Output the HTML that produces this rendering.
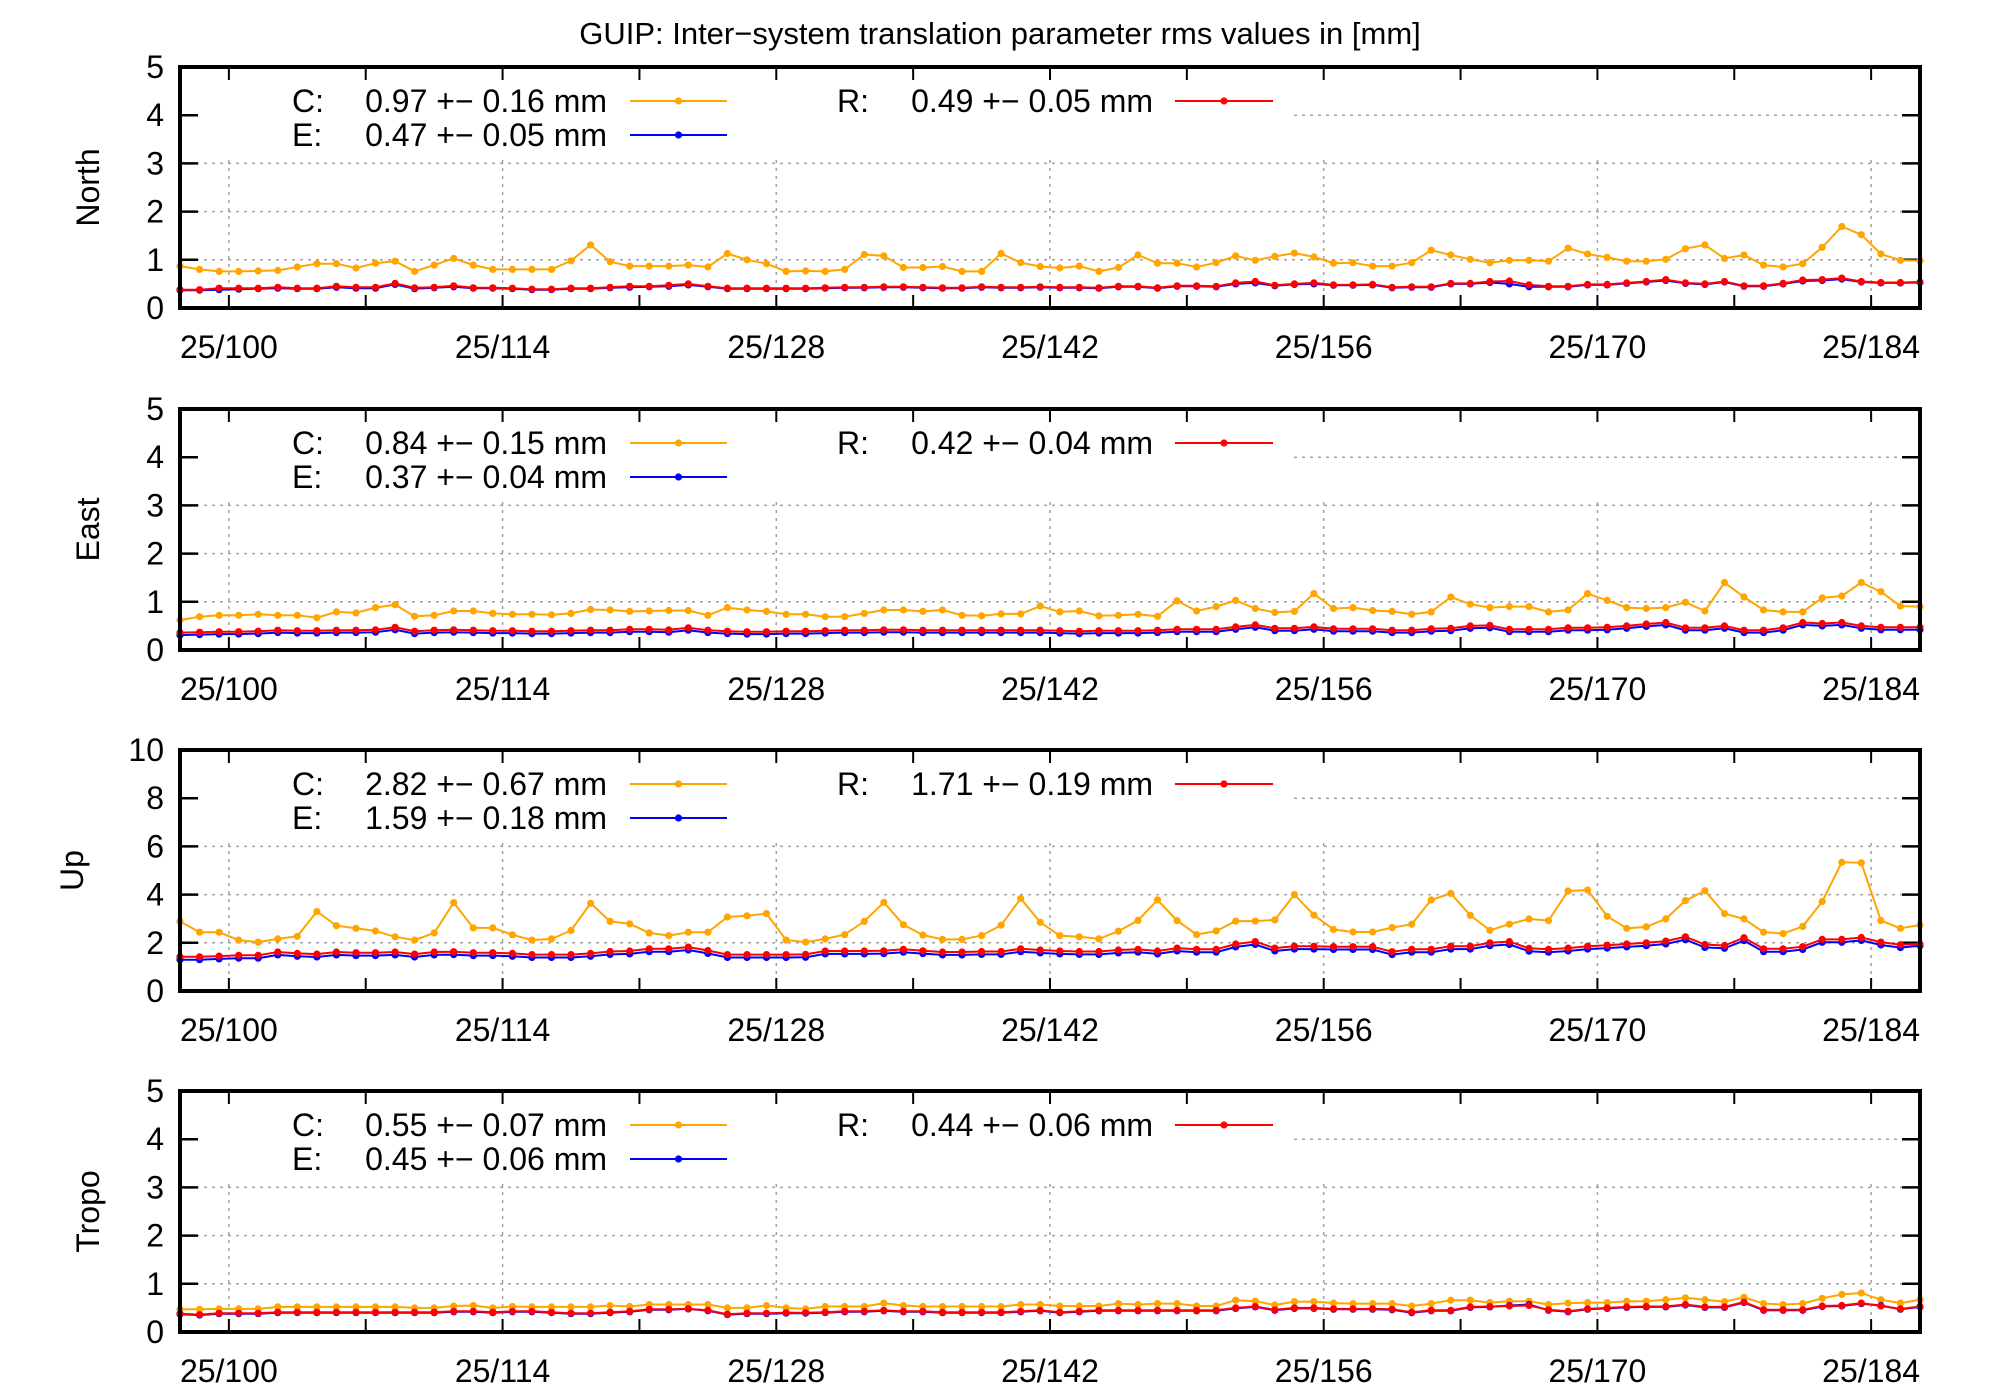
<!DOCTYPE html>
<html><head><meta charset="utf-8"><title>GUIP inter-system translation rms</title>
<style>
html,body{margin:0;padding:0;background:#fff;}
svg{display:block;font-family:"Liberation Sans",Arial,sans-serif;}
</style></head>
<body>
<svg id="chart" width="2000" height="1400" viewBox="0 0 2000 1400" xmlns="http://www.w3.org/2000/svg">
<text x="1000" y="44" font-size="31" text-anchor="middle" fill="#000">GUIP: Inter−system translation parameter rms values in [mm]</text>
</svg>
<script>
const xTickDays = [100,107,114,121,128,135,142,149,156,163,170,177,184];
const xLabelDays = [100,114,128,142,156,170,184];
const xLabelPrefix = "25/";
const panelNames = ["North","East","Up","Tropo"];
const panelYMax = [5,5,10,5];
const panelYStep = [1,1,2,1];
const legendC = ["0.97 +− 0.16 mm","0.84 +− 0.15 mm","2.82 +− 0.67 mm","0.55 +− 0.07 mm"];
const legendE = ["0.47 +− 0.05 mm","0.37 +− 0.04 mm","1.59 +− 0.18 mm","0.45 +− 0.06 mm"];
const legendR = ["0.49 +− 0.05 mm","0.42 +− 0.04 mm","1.71 +− 0.19 mm","0.44 +− 0.06 mm"];

const northC = [0.87,0.80,0.76,0.76,0.77,0.78,0.85,0.92,0.92,0.83,0.93,0.97,0.76,0.89,1.03,0.89,0.80,0.80,0.80,0.80,0.98,1.31,0.96,0.87,0.87,0.87,0.89,0.85,1.13,1.00,0.92,0.76,0.77,0.76,0.80,1.11,1.08,0.84,0.84,0.86,0.76,0.76,1.13,0.94,0.86,
0.83,0.87,0.76,0.84,1.10,0.93,0.93,0.85,0.94,1.08,0.99,1.07,1.14,1.06,0.93,0.94,0.87,0.87,0.94,1.20,1.10,1.01,0.94,0.99,0.99,0.97,1.24,1.12,1.05,0.97,0.97,1.01,1.23,1.31,1.03,1.10,0.89,0.85,0.92,1.26,1.69,1.52,1.12,0.99,0.98];
const northE = [0.37,0.37,0.38,0.39,0.40,0.41,0.40,0.40,0.43,0.41,0.41,0.49,0.40,0.42,0.44,0.41,0.41,0.40,0.38,0.38,0.40,0.40,0.42,0.43,0.44,0.45,0.48,0.44,0.40,0.40,0.40,0.40,0.40,0.41,0.42,0.42,0.43,0.43,0.42,0.41,0.41,0.43,0.42,0.42,0.43,
0.42,0.42,0.41,0.44,0.44,0.41,0.45,0.45,0.44,0.50,0.52,0.46,0.49,0.50,0.47,0.47,0.48,0.42,0.43,0.43,0.50,0.50,0.53,0.50,0.44,0.44,0.44,0.48,0.48,0.51,0.54,0.57,0.51,0.49,0.54,0.45,0.45,0.50,0.56,0.57,0.60,0.54,0.52,0.52,0.53];
const northR = [0.38,0.38,0.41,0.41,0.41,0.43,0.41,0.41,0.45,0.43,0.43,0.51,0.42,0.43,0.46,0.42,0.42,0.41,0.39,0.39,0.41,0.41,0.43,0.45,0.45,0.47,0.50,0.45,0.41,0.41,0.41,0.41,0.41,0.42,0.43,0.43,0.44,0.44,0.43,0.42,0.42,0.44,0.43,0.43,0.44,
0.43,0.43,0.42,0.45,0.45,0.42,0.46,0.46,0.45,0.52,0.55,0.47,0.50,0.52,0.48,0.48,0.49,0.43,0.44,0.44,0.51,0.51,0.55,0.56,0.48,0.45,0.45,0.49,0.49,0.52,0.55,0.59,0.52,0.50,0.55,0.46,0.46,0.51,0.58,0.59,0.62,0.55,0.53,0.53,0.54];

const eastC = [0.62,0.69,0.72,0.72,0.74,0.72,0.72,0.67,0.79,0.77,0.88,0.94,0.70,0.72,0.81,0.81,0.76,0.74,0.74,0.73,0.76,0.84,0.83,0.80,0.81,0.82,0.82,0.72,0.88,0.83,0.80,0.74,0.74,0.69,0.69,0.76,0.83,0.83,0.80,0.83,0.72,0.71,0.75,0.75,0.91,
0.79,0.81,0.71,0.72,0.74,0.70,1.02,0.81,0.90,1.03,0.86,0.78,0.80,1.17,0.86,0.88,0.82,0.80,0.74,0.79,1.10,0.95,0.88,0.90,0.90,0.79,0.83,1.17,1.03,0.88,0.86,0.88,0.99,0.81,1.40,1.10,0.83,0.79,0.79,1.08,1.12,1.40,1.21,0.91,0.90];
const eastE = [0.31,0.32,0.33,0.33,0.34,0.36,0.35,0.35,0.36,0.36,0.37,0.42,0.34,0.36,0.37,0.36,0.35,0.35,0.34,0.34,0.35,0.36,0.36,0.38,0.38,0.37,0.41,0.36,0.34,0.33,0.33,0.34,0.34,0.35,0.36,0.36,0.37,0.37,0.36,0.36,0.36,0.36,0.36,0.36,0.36,
0.35,0.34,0.35,0.35,0.35,0.36,0.38,0.38,0.38,0.43,0.47,0.40,0.40,0.43,0.39,0.39,0.39,0.36,0.36,0.39,0.40,0.45,0.46,0.38,0.38,0.38,0.41,0.41,0.42,0.45,0.49,0.52,0.41,0.41,0.45,0.36,0.36,0.41,0.52,0.50,0.52,0.45,0.42,0.42,0.42];
const eastR = [0.36,0.37,0.38,0.38,0.39,0.41,0.40,0.40,0.41,0.41,0.42,0.47,0.39,0.41,0.42,0.41,0.40,0.40,0.39,0.39,0.40,0.41,0.41,0.43,0.43,0.42,0.46,0.41,0.39,0.38,0.38,0.39,0.39,0.40,0.41,0.41,0.42,0.42,0.41,0.41,0.41,0.41,0.41,0.41,0.41,
0.40,0.39,0.40,0.40,0.40,0.41,0.43,0.43,0.43,0.48,0.52,0.45,0.45,0.48,0.44,0.44,0.44,0.41,0.41,0.44,0.45,0.50,0.51,0.43,0.43,0.43,0.46,0.46,0.47,0.50,0.54,0.57,0.46,0.46,0.50,0.41,0.41,0.46,0.57,0.55,0.57,0.50,0.47,0.47,0.47];

const upC = [2.89,2.44,2.44,2.11,2.03,2.16,2.27,3.30,2.71,2.60,2.49,2.25,2.11,2.41,3.67,2.62,2.62,2.33,2.11,2.16,2.51,3.64,2.89,2.79,2.41,2.30,2.44,2.44,3.07,3.12,3.21,2.11,2.03,2.16,2.34,2.89,3.68,2.75,2.32,2.14,2.14,2.30,2.73,3.84,2.85,
2.30,2.25,2.16,2.48,2.93,3.78,2.92,2.34,2.49,2.90,2.90,2.95,4.00,3.15,2.55,2.45,2.45,2.63,2.77,3.78,4.05,3.14,2.52,2.77,2.99,2.92,4.15,4.19,3.10,2.60,2.66,2.99,3.75,4.16,3.21,2.99,2.44,2.38,2.68,3.71,5.34,5.32,2.92,2.60,2.74];
const upE = [1.30,1.30,1.33,1.36,1.36,1.50,1.44,1.41,1.50,1.47,1.47,1.50,1.41,1.50,1.51,1.47,1.47,1.44,1.39,1.39,1.39,1.44,1.52,1.54,1.63,1.63,1.70,1.56,1.39,1.39,1.39,1.39,1.40,1.54,1.54,1.54,1.55,1.61,1.55,1.50,1.50,1.52,1.52,1.63,1.58,
1.54,1.52,1.52,1.58,1.61,1.54,1.66,1.61,1.61,1.83,1.93,1.66,1.74,1.74,1.72,1.72,1.72,1.51,1.61,1.61,1.74,1.74,1.88,1.93,1.65,1.61,1.66,1.74,1.78,1.83,1.88,1.95,2.13,1.81,1.77,2.09,1.63,1.63,1.72,2.02,2.02,2.10,1.91,1.80,1.88];
const upR = [1.42,1.42,1.45,1.48,1.48,1.62,1.56,1.53,1.62,1.59,1.59,1.62,1.53,1.62,1.63,1.59,1.59,1.56,1.51,1.51,1.51,1.56,1.64,1.66,1.75,1.75,1.82,1.68,1.51,1.51,1.51,1.51,1.52,1.66,1.66,1.66,1.67,1.73,1.67,1.62,1.62,1.64,1.64,1.75,1.70,
1.66,1.64,1.64,1.70,1.73,1.66,1.78,1.73,1.73,1.95,2.05,1.78,1.86,1.86,1.84,1.84,1.84,1.63,1.73,1.73,1.86,1.86,2.00,2.05,1.77,1.73,1.78,1.86,1.90,1.95,2.00,2.07,2.25,1.93,1.89,2.21,1.75,1.75,1.84,2.14,2.14,2.22,2.03,1.92,1.95];

const tropoC = [0.47,0.47,0.48,0.48,0.48,0.52,0.52,0.52,0.52,0.52,0.52,0.52,0.50,0.50,0.54,0.55,0.50,0.53,0.52,0.52,0.52,0.52,0.55,0.53,0.57,0.57,0.57,0.57,0.50,0.50,0.55,0.50,0.48,0.53,0.53,0.53,0.60,0.55,0.53,0.53,0.53,0.53,0.53,0.57,0.57,
0.54,0.54,0.54,0.59,0.57,0.59,0.59,0.54,0.54,0.66,0.64,0.56,0.63,0.63,0.60,0.59,0.59,0.59,0.54,0.59,0.66,0.66,0.61,0.64,0.64,0.57,0.60,0.61,0.61,0.64,0.64,0.67,0.71,0.67,0.63,0.72,0.59,0.57,0.59,0.70,0.78,0.81,0.67,0.60,0.67];
const tropoE = [0.37,0.35,0.38,0.38,0.38,0.40,0.40,0.40,0.40,0.40,0.40,0.40,0.40,0.40,0.42,0.42,0.40,0.42,0.42,0.40,0.38,0.38,0.40,0.42,0.46,0.46,0.48,0.44,0.36,0.38,0.38,0.39,0.39,0.40,0.42,0.42,0.44,0.42,0.42,0.40,0.40,0.40,0.40,0.42,0.44,
0.40,0.42,0.44,0.44,0.44,0.44,0.44,0.44,0.44,0.49,0.52,0.45,0.49,0.49,0.47,0.47,0.47,0.46,0.40,0.44,0.44,0.51,0.52,0.55,0.57,0.45,0.42,0.47,0.49,0.51,0.52,0.52,0.56,0.51,0.51,0.61,0.45,0.45,0.45,0.53,0.54,0.59,0.55,0.47,0.52];
const tropoR = [0.38,0.36,0.39,0.39,0.39,0.41,0.41,0.41,0.41,0.41,0.41,0.41,0.41,0.41,0.43,0.43,0.41,0.43,0.43,0.41,0.39,0.39,0.41,0.43,0.47,0.47,0.48,0.45,0.37,0.39,0.39,0.40,0.40,0.41,0.43,0.43,0.45,0.43,0.43,0.41,0.41,0.41,0.41,0.43,0.45,
0.41,0.43,0.45,0.45,0.45,0.45,0.45,0.45,0.45,0.50,0.53,0.46,0.50,0.50,0.48,0.48,0.48,0.47,0.41,0.45,0.45,0.52,0.53,0.54,0.55,0.46,0.43,0.48,0.50,0.52,0.53,0.53,0.57,0.52,0.52,0.62,0.46,0.46,0.46,0.54,0.55,0.60,0.54,0.48,0.53];

const seriesC = [northC,eastC,upC,tropoC];
const seriesE = [northE,eastE,upE,tropoE];
const seriesR = [northR,eastR,upR,tropoR];
const firstDay = 97.5;

const NS = "http://www.w3.org/2000/svg";
const svg = document.getElementById("chart");
const PL = 180, PR = 1920, DAY0 = 97.5, DAY1 = 186.5;
const panelTops = [67,409,750,1091];
const PH = 241;
const COL = {C:"#FFA500", E:"#0000FF", R:"#FF0000"};

function mk(tag, attrs, parent){
  const el = document.createElementNS(NS, tag);
  for (const k in attrs) el.setAttribute(k, attrs[k]);
  (parent||svg).appendChild(el);
  return el;
}
function xScale(day){ return PL + (day - DAY0) * (PR - PL) / (DAY1 - DAY0); }

panelNames.forEach((pname, p) => {
  const top = panelTops[p], bot = top + PH;
  const ymax = panelYMax[p];
  const yScale = v => bot - v / ymax * PH;
  const g = mk("g", {});
  
  

  // horizontal grid
  for (let v = panelYStep[p]; v < ymax; v += panelYStep[p]) {
    const y = yScale(v);
    const x0 = (y < top + 95) ? 1294 : PL;
    const gl = mk("line", {x1:x0, y1:y, x2:PR, y2:y, stroke:"#a0a0a0", "stroke-width":1.5, "stroke-dasharray":"3,5"}, g);
    
    
  }
  // vertical grid
  xLabelDays.forEach(d => {
    const x = xScale(d);
    const gl = mk("line", {x1:x, y1:top + 93, x2:x, y2:bot, stroke:"#a0a0a0", "stroke-width":1.5, "stroke-dasharray":"3,5"}, g);
    
    
  });
  // x ticks
  xTickDays.forEach(d => {
    const x = xScale(d);
    const t1 = mk("line", {x1:x, y1:bot, x2:x, y2:bot-13, stroke:"#000", "stroke-width":2}, g);
    
    
    const t2 = mk("line", {x1:x, y1:top, x2:x, y2:top+13, stroke:"#000", "stroke-width":2}, g);
    
    
  });
  xLabelDays.forEach(d => {
    const t = mk("text", {x:xScale(d), y:bot+50, "font-size":32, "text-anchor":"middle", fill:"#000"}, g);
    t.textContent = xLabelPrefix + d;
    
    
  });
  // y ticks
  for (let v = 0; v <= ymax; v += panelYStep[p]) {
    const y = yScale(v);
    const a = mk("line", {x1:PL, y1:y, x2:PL+18, y2:y, stroke:"#000", "stroke-width":2.5}, g);
    
    
    const b = mk("line", {x1:PR-18, y1:y, x2:PR, y2:y, stroke:"#000", "stroke-width":2.5}, g);
    
    
    const t = mk("text", {x:164, y:y+11, "font-size":32, "text-anchor":"end", fill:"#000"}, g);
    t.textContent = String(v);
    
    
  }
  // y title
  const tx = (p === 2) ? 72 : 88, ty = top + PH/2;
  const yt = mk("text", {x:tx, y:ty, "font-size":32, "text-anchor":"middle", "dominant-baseline":"central", transform:`rotate(-90 ${tx} ${ty})`, fill:"#000"}, g);
  yt.textContent = pname;
  
  

  // series
  [["C",seriesC[p]],["E",seriesE[p]],["R",seriesR[p]]].forEach(([key, arr]) => {
    const sg = mk("g", {}, g);
    
    
    const pts = arr.map((v, i) => xScale(firstDay + i).toFixed(1) + "," + yScale(v).toFixed(1)).join(" ");
    const pl = mk("polyline", {points:pts, fill:"none", stroke:COL[key], "stroke-width":2}, sg);
    
    
    arr.forEach((v, i) => {
      const c = mk("circle", {cx:xScale(firstDay + i).toFixed(1), cy:yScale(v).toFixed(1), r:3.6, fill:COL[key]}, sg);
      
      
    });
  });

  // border
  const br = mk("rect", {x:PL, y:top, width:PR-PL, height:PH, fill:"none", stroke:"#000", "stroke-width":4}, g);
  
  

  // legend
  const lg = mk("g", {}, g);
  
  
  const entries = [
    {k:"C", lab:"C:", txt:legendC[p], lx:292, tx:607, sx0:630, sx1:727, y:top+34},
    {k:"E", lab:"E:", txt:legendE[p], lx:292, tx:607, sx0:630, sx1:727, y:top+68},
    {k:"R", lab:"R:", txt:legendR[p], lx:837, tx:1153, sx0:1175, sx1:1273, y:top+34}
  ];
  entries.forEach(e => {
    const eg = mk("g", {}, lg);
    
    
    const a = mk("text", {x:e.lx, y:e.y+11, "font-size":32, fill:"#000"}, eg);
    a.textContent = e.lab;
    
    
    const b = mk("text", {x:e.tx, y:e.y+11, "font-size":32, "text-anchor":"end", fill:"#000"}, eg);
    b.textContent = e.txt;
    
    
    const l = mk("line", {x1:e.sx0, y1:e.y, x2:e.sx1, y2:e.y, stroke:COL[e.k], "stroke-width":2}, eg);
    
    
    const c = mk("circle", {cx:(e.sx0+e.sx1)/2, cy:e.y, r:3.6, fill:COL[e.k]}, eg);
    
    
  });
});
</script>
</body></html>
